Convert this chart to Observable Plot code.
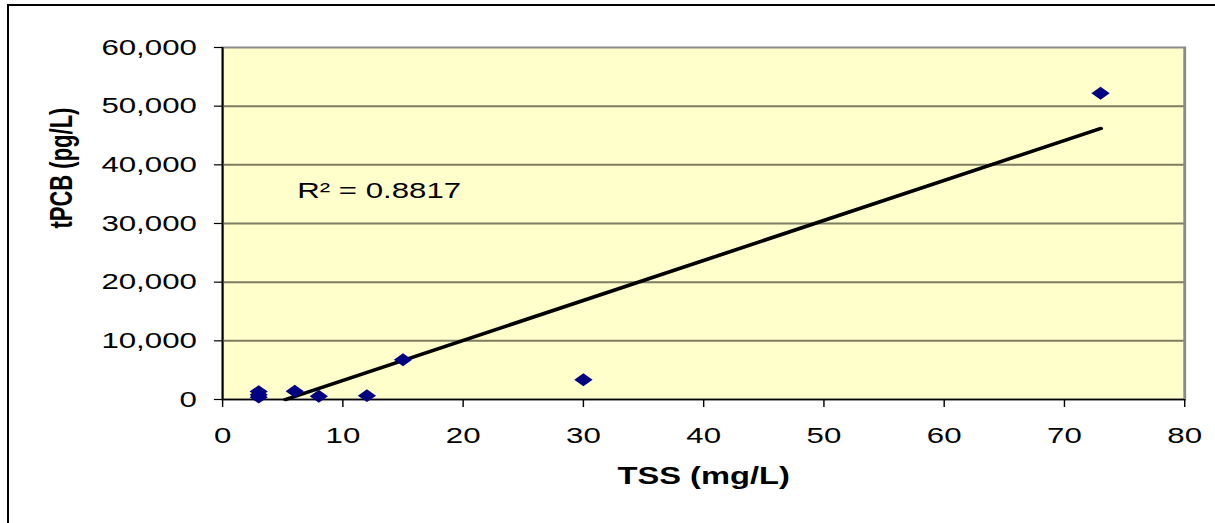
<!DOCTYPE html>
<html><head><meta charset="utf-8">
<script src="https://cdn.jsdelivr.net/npm/d3@7"></script>
<script src="https://cdn.jsdelivr.net/npm/@observablehq/plot@0.6"></script>
<style>
html,body{margin:0;padding:0;background:#fff;overflow:hidden}
#wrap{position:relative;width:1215px;height:523px;overflow:hidden}
#wrap svg{position:absolute;left:0;top:0}
#border{position:absolute;left:7px;top:4px;width:1300px;height:700px;border-left:2px solid #000;border-top:2px solid #000;pointer-events:none}
</style></head><body><div id="wrap"></div>
<script>
// Data
const tss  = [3, 3, 3, 6, 8, 12, 15, 30, 73];          // TSS (mg/L)
const tpcb = [400, 800, 1350, 1400, 560, 650, 6770, 3360, 52200]; // tPCB (pg/L)
// Linear trend line (as drawn in the picture)
const trendTss  = [5.24, 73];
const trendTpcb = [0, 46200];
const r2Label = "R² = 0.8817";
const r2At = [{x: 6.2, y: 35600}];
const xTicks = [0, 10, 20, 30, 40, 50, 60, 70, 80];
const yTicks = [0, 10000, 20000, 30000, 40000, 50000, 60000];
const yGrid  = [10000, 20000, 30000, 40000, 50000];
const xTitle = "TSS (mg/L)";
const yTitle = "tPCB (pg/L)";

const points = tss.map((t, i) => ({tss: t, tpcb: tpcb[i]}));
const trend = trendTss.map((t, i) => ({tss: t, tpcb: trendTpcb[i]}));

const OUTW = 1215, H = 523;
const S = 1.42;               // horizontal stretch of the original picture
const W = Math.round(OUTW / S);
const font = "'Liberation Sans', Arial, Helvetica, sans-serif";

const chart = Plot.plot({
  width: W, height: H,
  marginLeft: 222 / S, marginRight: (OUTW - 1184) / S, marginTop: 47, marginBottom: 124,
  style: {fontFamily: font, fontSize: "22px", color: "#000", background: "transparent"},
  x: {domain: [0, 80], label: null},
  y: {domain: [0, 60000], label: null},
  marks: [
    Plot.frame({fill: "#FFFFCC", stroke: "none"}),
    Plot.gridY(yGrid, {stroke: "#7d7d62", strokeOpacity: 1, strokeWidth: 2}),
    Plot.frame({stroke: "#8a8a8a", strokeWidth: 2}),
    Plot.ruleX([0], {stroke: "#000", strokeWidth: 1.2}),
    Plot.ruleY([0], {stroke: "#000", strokeWidth: 1.6}),
    Plot.axisX(xTicks, {tickSize: 8, tickPadding: 19.5, fontSize: 22, label: null, strokeWidth: 1}),
    Plot.axisY(yTicks, {tickSize: 8 / S, tickPadding: 12.5, fontSize: 22, label: null, tickFormat: d3.format(","), strokeWidth: 1.2}),
    Plot.line(trend, {x: "tss", y: "tpcb", stroke: "#000", strokeWidth: 3.5}),
    Plot.dot(points, {x: "tss", y: "tpcb", symbol: "diamond2", r: 5.8, fill: "#000080", stroke: "none"}),
    Plot.text(r2At, {x: "x", y: "y", text: () => r2Label, textAnchor: "start", fontSize: 22, fill: "#000"}),
    Plot.text([xTitle], {frameAnchor: "bottom", dy: 84, fontSize: 23, fontWeight: "bold", fill: "#000"}),
    Plot.text([yTitle], {frameAnchor: "left", rotate: -90, dx: 43 - 222 / S, dy: 5, fontSize: 22, fontWeight: "bold", fill: "#000"})
  ]
});

chart.setAttribute("preserveAspectRatio", "none");
chart.setAttribute("width", OUTW);
chart.setAttribute("height", H);
chart.style.width = OUTW + "px";
chart.style.height = H + "px";
chart.style.maxWidth = "none";
const wrap = document.getElementById("wrap");
wrap.appendChild(chart);
const b = document.createElement("div");
b.id = "border";
wrap.appendChild(b);
</script>
</body></html>
